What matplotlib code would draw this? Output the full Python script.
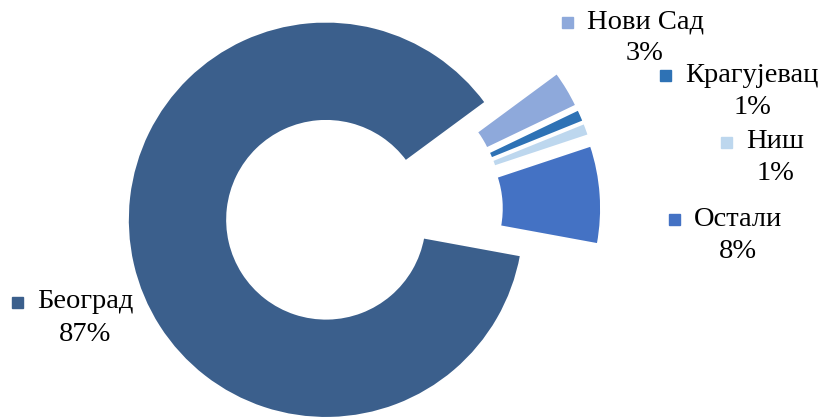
import matplotlib.pyplot as plt
from matplotlib.patches import Rectangle

# податци
cities = ['Београд', 'Нови Сад', 'Крагујевац', 'Ниш', 'Остали']
shares = [87, 3, 1, 1, 8]
pct_labels = ['87%', '3%', '1%', '1%', '8%']
colors = ['#3B5F8C', '#8EA9DB', '#2E72B5', '#BDD7EE', '#4472C4']

# positions of the data labels (pixel coords, y from top)
label_xy = [(85, 302), (645, 22), (752, 75), (775, 142), (738, 219)]

W, H = 822, 419
fig = plt.figure(figsize=(W / 100, H / 100), dpi=100)
ax = fig.add_axes([0, 0, 1, 1])

R = 198
ax.pie(shares, colors=colors, startangle=349.6, counterclock=False,
       radius=R, center=(364, H - 211), explode=[39] * len(shares),
       wedgeprops=dict(width=99, edgecolor='white', linewidth=1.2),
       frame=False)
ax.set_xlim(0, W)
ax.set_ylim(0, H)
ax.set_aspect('equal')
ax.axis('off')

font = dict(family='Liberation Serif', fontsize=20.5, color='black')
for name, pct, col, (x, y) in zip(cities, pct_labels, colors, label_xy):
    t = ax.text(x, H - y, name, ha='center', va='center', **font)
    ax.text(x, H - y - 32, pct, ha='center', va='center', **font)
    # legend key square left of the name
    fig.canvas.draw()
    bb = t.get_window_extent()
    ax.add_patch(Rectangle((bb.x0 - 25, H - y - 6), 11, 11, color=col))

fig.savefig('out.png', dpi=100)
